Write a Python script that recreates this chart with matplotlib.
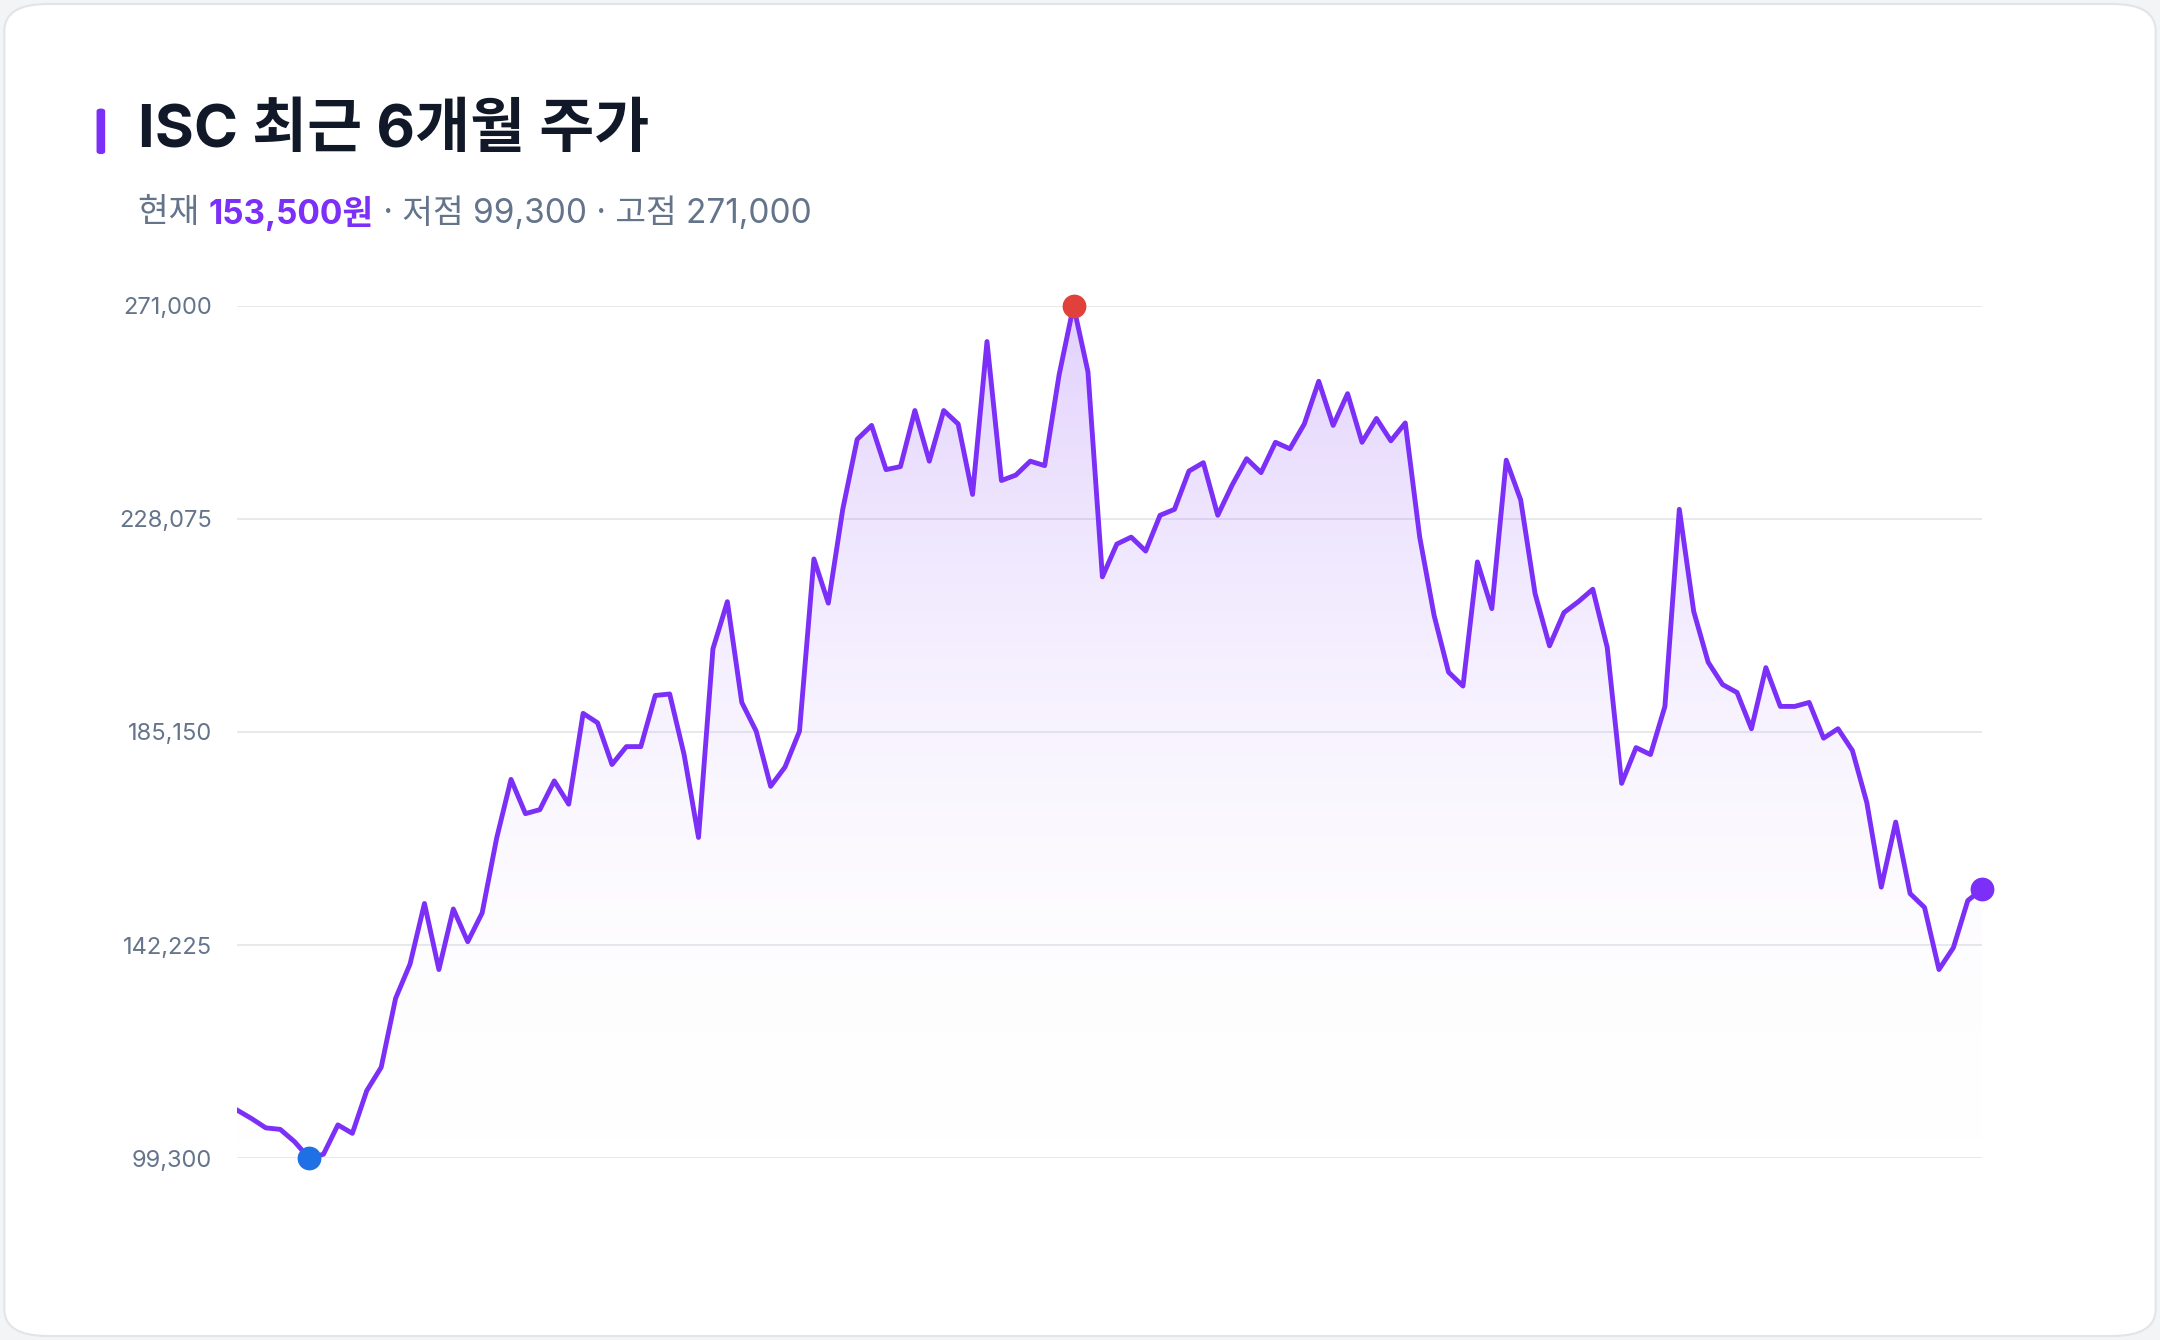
import matplotlib
matplotlib.use("Agg")
import matplotlib.pyplot as plt
import numpy as np
from matplotlib.patches import FancyBboxPatch
from matplotlib.colors import LinearSegmentedColormap

plt.rcParams['font.family'] = ['Inter', 'Noto Sans CJK KR', 'DejaVu Sans']

prices = [109000,107300,105400,105100,102600,99300,100100,106000,104300,112900,117600,131500,138400,150600,137300,149500,142900,148700,163700,175600,168700,169500,175300,170600,188900,187000,178600,182200,182200,192500,192800,180600,163900,201900,211400,191100,185300,174200,178100,185300,220000,211100,230000,244100,246900,238000,238600,249900,239700,249900,247200,233000,263800,235800,236900,239700,238800,257100,271000,257700,216400,223000,224400,221600,228800,230000,237700,239400,228800,234900,240200,237400,243500,242200,247200,255800,246900,253300,243500,248300,243800,247400,224400,208600,197200,194400,219400,210000,239900,231900,213000,202500,209200,211400,213900,202200,174800,182000,180600,190300,230000,209400,199200,194700,193100,185800,198100,190300,190300,191100,183900,185800,181400,170900,153900,167000,152600,149800,137300,141700,151200,153500]
yticks = [99300,142225,185150,228075,271000]
ytick_labels = ["99,300","142,225","185,150","228,075","271,000"]

PURPLE = "#7B2FF7"
fig = plt.figure(figsize=(21.6,13.4), dpi=100)
fig.patch.set_facecolor("#f3f4f6")
card = FancyBboxPatch((0.002,0.003),0.996,0.994, boxstyle="round,pad=0,rounding_size=0.02",
                      transform=fig.transFigure, facecolor="white", edgecolor="#e2e4e8", lw=1.5, zorder=-5)
fig.patches.append(card)

ax = fig.add_axes([0.1097,0.1357,0.808,0.6361], zorder=2)
ax.set_facecolor("none")
x = np.arange(len(prices))
y = np.array(prices)
ax.set_xlim(0, len(prices)-1)
ax.set_ylim(99300, 271000)
grad = np.linspace(0,1,256).reshape(-1,1)
cmap = LinearSegmentedColormap.from_list("g", [(1,1,1,0.0),(0.48,0.18,0.97,0.22)])
im = ax.imshow(grad, extent=[0,len(prices)-1,99300,271000], origin="lower", aspect="auto", cmap=cmap, zorder=1)
poly = ax.fill_between(x, y, 99300, color="none", lw=0)
im.set_clip_path(poly.get_paths()[0], transform=ax.transData)
ax.plot(x, y, color=PURPLE, lw=3.5, zorder=3)
imin = int(np.argmin(y)); imax = int(np.argmax(y))
ax.scatter([imin],[y[imin]], s=260, color="#1f6fe5", zorder=5, clip_on=False)
ax.scatter([imax],[y[imax]], s=260, color="#e0413a", zorder=5, clip_on=False)
ax.scatter([len(y)-1],[y[-1]], s=260, color=PURPLE, zorder=5, clip_on=False)
ax.set_yticks(yticks)
ax.set_yticklabels(ytick_labels, fontsize=17, color="#64748b")
ax.set_xticks([])
ax.grid(axis="y", color="#e5e7eb", lw=1.3)
ax.set_axisbelow(True)
ax.tick_params(axis="y", length=0, pad=18)
for s in ax.spines.values():
    s.set_visible(False)

fig.patches.append(FancyBboxPatch((0.0447,0.885),0.004,0.034, boxstyle="round,pad=0,rounding_size=0.002",
                   transform=fig.transFigure, facecolor=PURPLE, edgecolor="none"))
fig.text(0.064,0.902,"ISC 최근 6개월 주가", fontsize=43, fontweight="bold", color="#111827", va="center")
parts = [("현재 ","#64748b","normal"),("153,500원","#7B2FF7","bold"),(" · 저점 99,300 · 고점 271,000","#64748b","normal")]
fig.canvas.draw()
r = fig.canvas.get_renderer()
xpos = 0.064
for t,c,w in parts:
    tx = fig.text(xpos,0.841,t,fontsize=24,color=c,fontweight=w,va="center")
    bb = tx.get_window_extent(renderer=r)
    xpos += bb.width/fig.bbox.width
fig.savefig("out.png", dpi=100, facecolor=fig.get_facecolor())
